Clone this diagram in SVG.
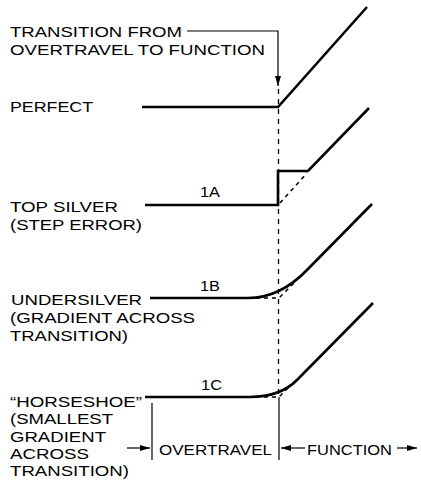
<svg xmlns="http://www.w3.org/2000/svg" width="421" height="487" viewBox="0 0 421 487">
<style>
  text { font-family: "Liberation Sans", Arial, sans-serif; font-size: 15px; fill: #000; }
  .curve { fill: none; stroke: #000; stroke-width: 2.6; stroke-linejoin: miter; stroke-linecap: butt; }
  .ideal { fill: none; stroke: #000; stroke-width: 1.5; stroke-dasharray: 4 4; }
  .thin { fill: none; stroke: #000; stroke-width: 1.2; }
  .dash { fill: none; stroke: #000; stroke-width: 1.3; stroke-dasharray: 5 5; }
</style>
<defs>
  <marker id="ah" viewBox="0 0 10 6" refX="10" refY="3" markerWidth="10" markerHeight="6" markerUnits="userSpaceOnUse" orient="auto">
    <path d="M0,0 L10,3 L0,6 Z" fill="#000"/>
  </marker>
</defs>
<rect width="421" height="487" fill="#fff"/>

<g id="title">
  <text x="10" y="37" textLength="172" lengthAdjust="spacingAndGlyphs">TRANSITION FROM</text>
  <text x="10" y="55" textLength="255" lengthAdjust="spacingAndGlyphs">OVERTRAVEL TO FUNCTION</text>
</g>

<g id="perfect">
  <text x="10" y="112" textLength="83" lengthAdjust="spacingAndGlyphs">PERFECT</text>
  <path class="curve" d="M142,107 H278 L367,7"/>
</g>

<g id="top-silver">
  <text x="10" y="212" textLength="108" lengthAdjust="spacingAndGlyphs">TOP SILVER</text>
  <text x="10" y="230" textLength="132" lengthAdjust="spacingAndGlyphs">(STEP ERROR)</text>
  <text x="200" y="197" textLength="20" lengthAdjust="spacingAndGlyphs">1A</text>
  <path class="curve" d="M145,205 H278 V171 H308 L369,108"/>
  <path class="ideal" d="M280,203 L307,173"/>
</g>

<g id="undersilver">
  <text x="11" y="305" textLength="131" lengthAdjust="spacingAndGlyphs">UNDERSILVER</text>
  <text x="10" y="323" textLength="185" lengthAdjust="spacingAndGlyphs">(GRADIENT ACROSS</text>
  <text x="10" y="341" textLength="118" lengthAdjust="spacingAndGlyphs">TRANSITION)</text>
  <text x="200" y="291" textLength="20" lengthAdjust="spacingAndGlyphs">1B</text>
  <path class="curve" d="M150,298 H248 Q280,298 307,270 L372,204"/>
  <path class="ideal" d="M256,298 H279 L296,281"/>
</g>

<g id="horseshoe">
  <text x="10" y="407" textLength="132" lengthAdjust="spacingAndGlyphs">“HORSESHOE”</text>
  <text x="10" y="424" textLength="103" lengthAdjust="spacingAndGlyphs">(SMALLEST</text>
  <text x="10" y="442" textLength="96" lengthAdjust="spacingAndGlyphs">GRADIENT</text>
  <text x="10" y="459" textLength="79" lengthAdjust="spacingAndGlyphs">ACROSS</text>
  <text x="10" y="476" textLength="119" lengthAdjust="spacingAndGlyphs">TRANSITION)</text>
  <text x="201" y="390" textLength="21" lengthAdjust="spacingAndGlyphs">1C</text>
  <path class="curve" d="M145,397 H250 Q280,397 297,380 L373,303"/>
  <path class="ideal" d="M264,397 H279 L289,387"/>
</g>

<g id="zones">
  <text x="159" y="455" textLength="113" lengthAdjust="spacingAndGlyphs">OVERTRAVEL</text>
  <text x="307" y="455" textLength="85" lengthAdjust="spacingAndGlyphs">FUNCTION</text>
</g>

<g id="connectors">
  <path class="thin" d="M187,31 H278 V86" marker-end="url(#ah)"/>
  <path class="dash" d="M278.5,89 V397"/>
  <path class="thin" d="M279,397 V460"/>
  <path class="thin" d="M152,403 V460"/>
  <path class="thin" d="M127,448 H150" marker-end="url(#ah)"/>
  <path class="thin" d="M305,448 H281" marker-end="url(#ah)"/>
  <path class="thin" d="M397,448 H417" marker-end="url(#ah)"/>
</g>
</svg>
